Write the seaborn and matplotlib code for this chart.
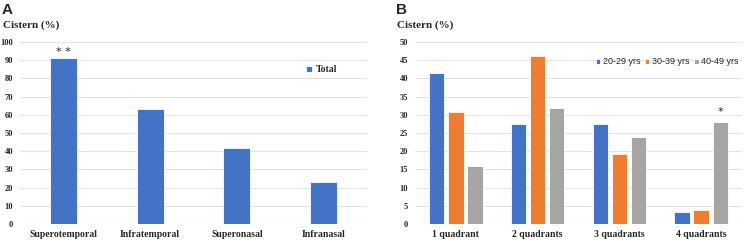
import matplotlib
matplotlib.use('Agg')
import matplotlib.pyplot as plt
import pandas as pd
import seaborn as sns

sns.set_theme(style='white')
plt.rcParams['font.family'] = ['Liberation Serif', 'DejaVu Serif']

# panel A
regions = ['Superotemporal', 'Infratemporal', 'Superonasal', 'Infranasal']
total_pct = [91.0, 63.2, 41.6, 22.9]

# panel B
quadrants = ['1 quadrant', '2 quadrants', '3 quadrants', '4 quadrants']
age_groups = ['20-29 yrs', '30-39 yrs', '40-49 yrs']
pct_20s = [41.5, 27.6, 27.6, 3.4]
pct_30s = [30.8, 46.2, 19.2, 3.8]
pct_40s = [16.0, 32.0, 24.0, 28.0]

blue, orange, gray = '#4472C4', '#ED7D31', '#A5A5A5'
grid_c = '#E3E3E3'

fig = plt.figure(figsize=(7.54, 2.41), dpi=100)
W, H = 754, 241
axA = fig.add_axes([20 / W, 1 - 224 / H, 347 / W, 182 / H])
axB = fig.add_axes([415 / W, 1 - 224 / H, 327 / W, 182 / H])


def style_axis(ax, ymax, step):
    ax.set_ylim(0, ymax)
    ax.set_yticks(range(0, ymax + 1, step))
    ax.grid(axis='y', color=grid_c, lw=0.8)
    ax.set_axisbelow(True)
    for s in ax.spines.values():
        s.set_visible(False)
    ax.tick_params(axis='y', length=0, pad=5, labelsize=6)
    ax.tick_params(axis='x', length=0, pad=4, labelsize=7)
    for t in ax.get_xticklabels() + ax.get_yticklabels():
        t.set_fontweight('bold')
    ax.set_xlabel('')
    ax.set_ylabel('')


dfA = pd.DataFrame({'region': regions, 'pct': total_pct})
sns.barplot(data=dfA, x='region', y='pct', color=blue, width=0.31,
            saturation=1, edgecolor='white', linewidth=0.6, label='Total', ax=axA)
style_axis(axA, 100, 10)
axA.text(0, total_pct[0] + 1, '* *', ha='center', va='bottom', fontsize=8,
         family=['DejaVu Sans'])
axA.legend(loc='upper left', bbox_to_anchor=(0.8, 0.92), frameon=False,
           prop={'weight': 'bold', 'size': 7}, handlelength=0.6, handleheight=0.6,
           handletextpad=0.4)

dfB = pd.DataFrame({
    'quadrant': quadrants * 3,
    'age': [a for a in age_groups for _ in quadrants],
    'pct': pct_20s + pct_30s + pct_40s,
})
sns.barplot(data=dfB, x='quadrant', y='pct', hue='age', hue_order=age_groups,
            palette=[blue, orange, gray], width=0.7, gap=0.2, saturation=1,
            edgecolor='white', linewidth=0.6, ax=axB)
style_axis(axB, 50, 5)
axB.text(3 + 0.233, pct_40s[3] + 1.5, '*', ha='center', va='bottom', fontsize=8,
         family=['DejaVu Sans'])
axB.legend(loc='upper right', bbox_to_anchor=(1.015, 0.96), ncol=3, frameon=False,
           prop={'family': ['Liberation Sans'], 'size': 6.5}, handlelength=0.5,
           handleheight=0.5, handletextpad=0.3, columnspacing=0.5)

for x, letter in [(2, 'A'), (396, 'B')]:
    fig.text(x / W, 1 - 3 / H, letter, ha='left', va='top', fontsize=11,
             fontweight='bold', family=['Liberation Sans'])
    fig.text((x + 1) / W, 1 - 20 / H, 'Cistern (%)', ha='left', va='top',
             fontsize=8, fontweight='bold')

fig.savefig('out.png', dpi=100)
